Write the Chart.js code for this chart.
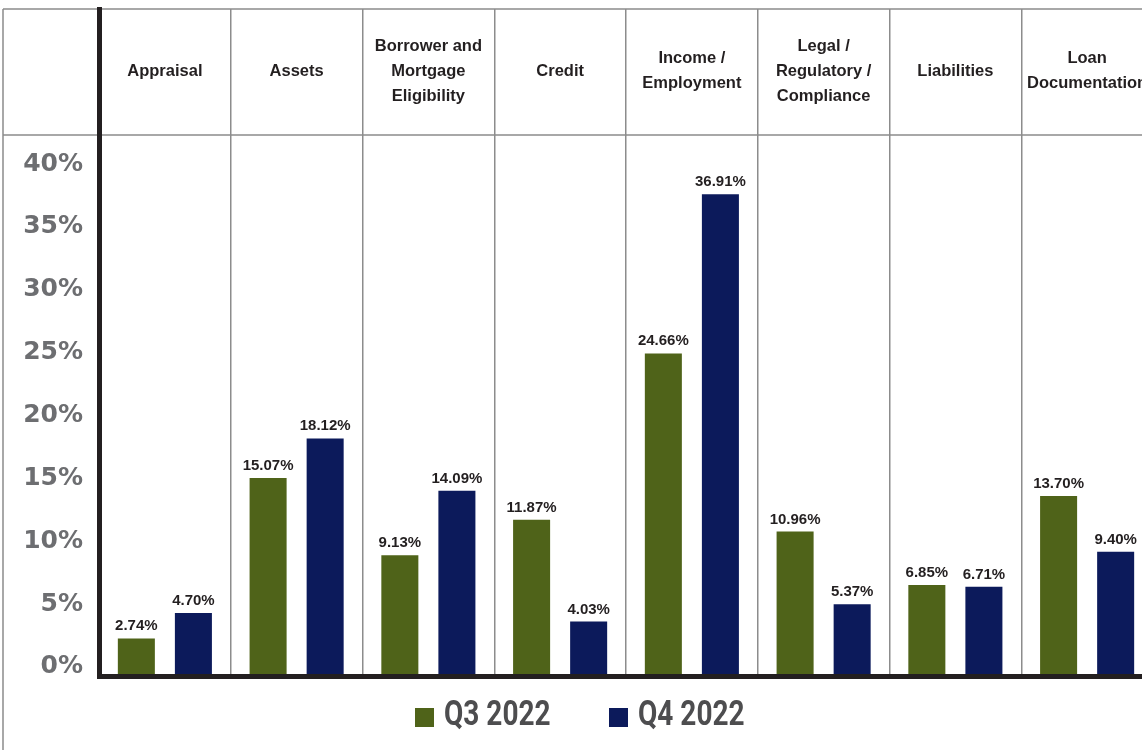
<!DOCTYPE html>
<html>
<head>
<meta charset="utf-8">
<title>Findings by category</title>
<script src="https://cdn.jsdelivr.net/npm/chart.js@4.4.0/dist/chart.umd.min.js"></script>
<style>
    html, body { margin: 0; padding: 0; background: #fff; overflow: hidden; }
    #wrap { position: relative; width: 1160px; height: 750px; }
    #legend {
        position: absolute; left: 0; top: 697px; width: 1157px;
        display: flex; justify-content: center; gap: 60px;
        font: bold 35px Roboto, "DejaVu Sans", sans-serif;
        line-height: 34px; color: #4d4d4f;
    }
    .item { display: flex; align-items: flex-end; gap: 10px; }
    .swatch { width: 19px; height: 19px; margin-bottom: 4px; }
    /* condensed look for the legend text */
    .text { display: inline-block; width: 105px; white-space: nowrap; }
    .text span { display: inline-block; transform: scaleX(0.8); transform-origin: 0 50%; }
</style>
</head>
<body>
<div id="wrap">
    <canvas id="chartCategories" width="1160" height="750"></canvas>
    <div id="legend"></div>
</div>
<script>
// Categories (multi-line headers as arrays)
const categories = [
    "Appraisal",
    "Assets",
    ["Borrower and", "Mortgage", "Eligibility"],
    "Credit",
    ["Income /", "Employment"],
    ["Legal /", "Regulatory /", "Compliance"],
    "Liabilities",
    ["Loan", "Documentation"],
];

const seriesLabels = ["Q3 2022", "Q4 2022"];
const seriesColors = ["#4f6319", "#0c1a5b"];

// Share of findings, %
const q3Values = [2.74, 15.07, 9.13, 11.87, 24.66, 10.96, 6.85, 13.7];
const q4Values = [4.7, 18.12, 14.09, 4.03, 36.91, 5.37, 6.71, 9.4];

const yTickValues = [0, 5, 10, 15, 20, 25, 30, 35, 40];

const lineGray = "#8c8c8c";
const axisBlack = "#231f20";

// ----- ----- ----- ----- -----

// Outer frame + header row divider, drawn under the scales
const frameLines = {
    id: "frameLines",
    beforeDraw(chart) {
        const { ctx, chartArea, width, height } = chart;
        ctx.save();
        ctx.strokeStyle = lineGray;
        ctx.lineWidth = 1.5;
        ctx.beginPath();
        ctx.moveTo(3, chartArea.top);
        ctx.lineTo(width, chartArea.top);
        ctx.moveTo(3, chartArea.top);
        ctx.lineTo(3, height);
        ctx.moveTo(3, chartArea.top + 126);
        ctx.lineTo(width, chartArea.top + 126);
        ctx.stroke();
        ctx.restore();
    },
};

// Category names in the header row
const headerLabels = {
    id: "headerLabels",
    afterDraw(chart) {
        const { ctx, chartArea, scales } = chart;
        ctx.save();
        ctx.font = "bold 16.5px 'Liberation Sans', Arial, sans-serif";
        ctx.fillStyle = axisBlack;
        ctx.textAlign = "center";
        ctx.textBaseline = "middle";
        chart.data.labels.forEach((label, i) => {
            const lines = Array.isArray(label) ? label : [label];
            const x = scales.x.getPixelForValue(i);
            lines.forEach((line, j) => {
                const y = chartArea.top + 62 + (j - (lines.length - 1) / 2) * 25;
                ctx.fillText(line, x, y);
            });
        });
        ctx.restore();
    },
};

// Value above each bar
const valueLabels = {
    id: "valueLabels",
    afterDatasetsDraw(chart) {
        const { ctx } = chart;
        ctx.save();
        ctx.font = "bold 15px 'Liberation Sans', Arial, sans-serif";
        ctx.fillStyle = axisBlack;
        ctx.textAlign = "center";
        ctx.textBaseline = "alphabetic";
        chart.data.datasets.forEach((ds, d) => {
            chart.getDatasetMeta(d).data.forEach((bar, i) => {
                ctx.fillText(ds.data[i].toFixed(2) + "%", bar.x, bar.y - 8);
            });
        });
        ctx.restore();
    },
};

// ----- ----- ----- ----- -----

const config = {
    type: "bar",
    data: {
        labels: categories,
        datasets: [
            { label: seriesLabels[0], data: q3Values, backgroundColor: seriesColors[0] },
            { label: seriesLabels[1], data: q4Values, backgroundColor: seriesColors[1] },
        ],
    },
    options: {
        responsive: false,
        animation: false,
        categoryPercentage: 0.866,
        barPercentage: 0.649,
        layout: { padding: { top: 9, right: 7, bottom: 74, left: 0 } },
        plugins: {
            legend: { display: false },
            tooltip: { enabled: false },
        },
        scales: {
            x: {
                ticks: { display: false },
                grid: { offset: true, color: lineGray, lineWidth: 1.5, drawTicks: false },
                border: { color: axisBlack, width: 5 },
                afterFit: (axis) => { axis.height = 0; },
            },
            // bars
            y: {
                display: false,
                min: -0.154,
                max: 51.15,
            },
            // percentage labels down the left side
            yTicks: {
                type: "linear",
                position: "left",
                min: -0.716,
                max: 52.33,
                grid: { display: false, drawTicks: false },
                border: { color: axisBlack, width: 5 },
                ticks: {
                    padding: 16,
                    color: "#6d6e71",
                    font: { family: "'DejaVu Sans'", weight: "bold", size: 25 },
                    callback: (v) => v + "%",
                },
                afterBuildTicks: (axis) => {
                    axis.ticks = yTickValues.map((v) => ({ value: v }));
                },
                afterFit: (axis) => {
                    axis.width = 99;
                    axis.paddingTop = 0;
                    axis.paddingBottom = 0;
                },
            },
        },
    },
    plugins: [frameLines, headerLabels, valueLabels],
};

new Chart(document.getElementById("chartCategories"), config);

// Legend
const legend = document.getElementById("legend");
seriesLabels.forEach((label, i) => {
    const item = document.createElement("div");
    item.className = "item";
    const swatch = document.createElement("span");
    swatch.className = "swatch";
    swatch.style.background = seriesColors[i];
    const text = document.createElement("span");
    text.className = "text";
    const inner = document.createElement("span");
    inner.textContent = label;
    text.appendChild(inner);
    item.appendChild(swatch);
    item.appendChild(text);
    legend.appendChild(item);
});
</script>
</body>
</html>
